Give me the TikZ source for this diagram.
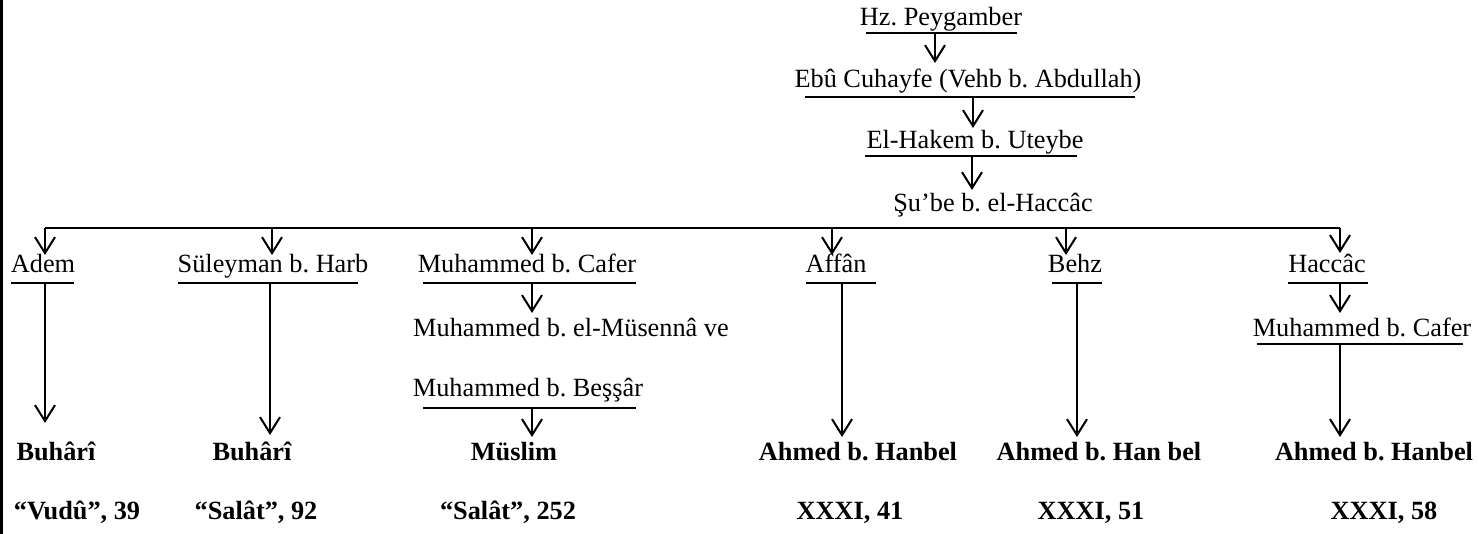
\documentclass[tikz,border=0pt]{standalone}
\usepackage{fontspec}
\setmainfont{Liberation Serif}
\usetikzlibrary{arrows.meta}
\begin{document}
\frenchspacing
\begin{tikzpicture}[x=0.5pt,y=-0.5pt,
  lbl/.style={inner sep=0pt, anchor=base, font=\fontsize{13.15}{15}\selectfont},
  blbl/.style={inner sep=0pt, anchor=base, font=\fontsize{13.15}{15}\selectfont\bfseries},
  uline/.style={line width=1pt},
  conn/.style={line width=1pt, -{Straight Barb[length=8pt,width=10pt,line width=1pt]}}]
\useasboundingbox (0,0) rectangle (1479,534);
\fill[black] (0,0) rectangle (2.5,534);

% texts
\node[lbl] (hz) at (941,26) {Hz. Peygamber};
\node[lbl] (ebu) at (968,88) {Ebû Cuhayfe (Vehb b. Abdullah)};
\node[lbl] (hakem) at (975,149) {El-Hakem b. Uteybe};
\node[lbl] (sube) at (993,212) {Şu’be b. el-Haccâc};
\node[lbl] (adem) at (43,273) {Adem};
\node[lbl] (suleyman) at (273,273) {Süleyman b. Harb};
\node[lbl] (cafer) at (527,273) {Muhammed b. Cafer};
\node[lbl] (affan) at (836,273) {Affân};
\node[lbl] (behz) at (1075,273) {Behz};
\node[lbl] (haccac) at (1327,273) {Haccâc};
\node[lbl] (musenna) at (571,336) {Muhammed b. el-Müsennâ ve};
\node[lbl] (bessar) at (528,397) {Muhammed b. Beşşâr};
\node[lbl] (caferb) at (1362,337) {Muhammed b. Cafer};
\node[blbl] (buhari1) at (56,460) {Buhârî};
\node[blbl] (buhari2) at (252,460) {Buhârî};
\node[blbl] (muslim) at (514,460) {Müslim};
\node[blbl] (ahmed1) at (858,460) {Ahmed b. Hanbel};
\node[blbl] (ahmed2) at (1099,460) {Ahmed b. Han bel};
\node[blbl] (ahmed3) at (1374,460) {Ahmed b. Hanbel};
\node[blbl] (vudu) at (77,519) {“Vudû”, 39};
\node[blbl] (salat1) at (256,519) {“Salât”, 92};
\node[blbl] (salat2) at (508,519) {“Salât”, 252};
\node[blbl] (xxxi1) at (850,519) {XXXI, 41};
\node[blbl] (xxxi2) at (1091,519) {XXXI, 51};
\node[blbl] (xxxi3) at (1384,519) {XXXI, 58};

% underlines
\draw[uline] (866,33) -- (1017,33);
\draw[uline] (805,97) -- (1135,97);
\draw[uline] (865,156) -- (1077,156);
\draw[uline] (11,283) -- (74,283);
\draw[uline] (178,283) -- (358,283);
\draw[uline] (423,283) -- (636,283);
\draw[uline] (806,283) -- (876,283);
\draw[uline] (1052,283) -- (1102,283);
\draw[uline] (1288,283) -- (1368,283);
\draw[uline] (1257,344) -- (1463,344);
\draw[uline] (423,408) -- (636,408);

% coordinates
\coordinate (hzS) at (935,33);   \coordinate (ebuT) at (935,63);
\coordinate (ebuS) at (973,97);  \coordinate (hakT) at (973,128);
\coordinate (hakS) at (972,156); \coordinate (subT) at (972,190);
\coordinate (barL) at (45,228);  \coordinate (barR) at (1340,228);
\coordinate (b2) at (272,228); \coordinate (b3) at (532,228);
\coordinate (b4) at (832,228); \coordinate (b5) at (1066,228);
\coordinate (ademT) at (45,255); \coordinate (sulT) at (272,255);
\coordinate (cafT) at (532,255); \coordinate (affT) at (832,255);
\coordinate (behT) at (1066,255); \coordinate (hacT) at (1340,253);
\coordinate (cafS) at (532,283); \coordinate (musT) at (532,313);
\coordinate (besS) at (532,408); \coordinate (mslT) at (532,437);
\coordinate (hacS) at (1340,283); \coordinate (cfbT) at (1340,313);
\coordinate (ademS) at (45,283); \coordinate (bh1T) at (45,423);
\coordinate (sulS) at (270,283); \coordinate (bh2T) at (270,435);
\coordinate (affS) at (842,283); \coordinate (ah1T) at (842,437);
\coordinate (behS) at (1077,283); \coordinate (ah2T) at (1077,437);
\coordinate (cfbS) at (1340,344); \coordinate (ah3T) at (1340,437);

% connectors
\draw[conn] (hzS) -- (ebuT);
\draw[conn] (ebuS) -- (hakT);
\draw[conn] (hakS) -- (subT);
\draw[uline] (barL) -- (barR);
\draw[conn] (barL) -- (ademT);
\draw[conn] (b2) -- (sulT);
\draw[conn] (b3) -- (cafT);
\draw[conn] (b4) -- (affT);
\draw[conn] (b5) -- (behT);
\draw[conn] (barR) -- (hacT);
\draw[conn] (cafS) -- (musT);
\draw[conn] (besS) -- (mslT);
\draw[conn] (hacS) -- (cfbT);
\draw[conn] (ademS) -- (bh1T);
\draw[conn] (sulS) -- (bh2T);
\draw[conn] (affS) -- (ah1T);
\draw[conn] (behS) -- (ah2T);
\draw[conn] (cfbS) -- (ah3T);
\end{tikzpicture}
\end{document}
